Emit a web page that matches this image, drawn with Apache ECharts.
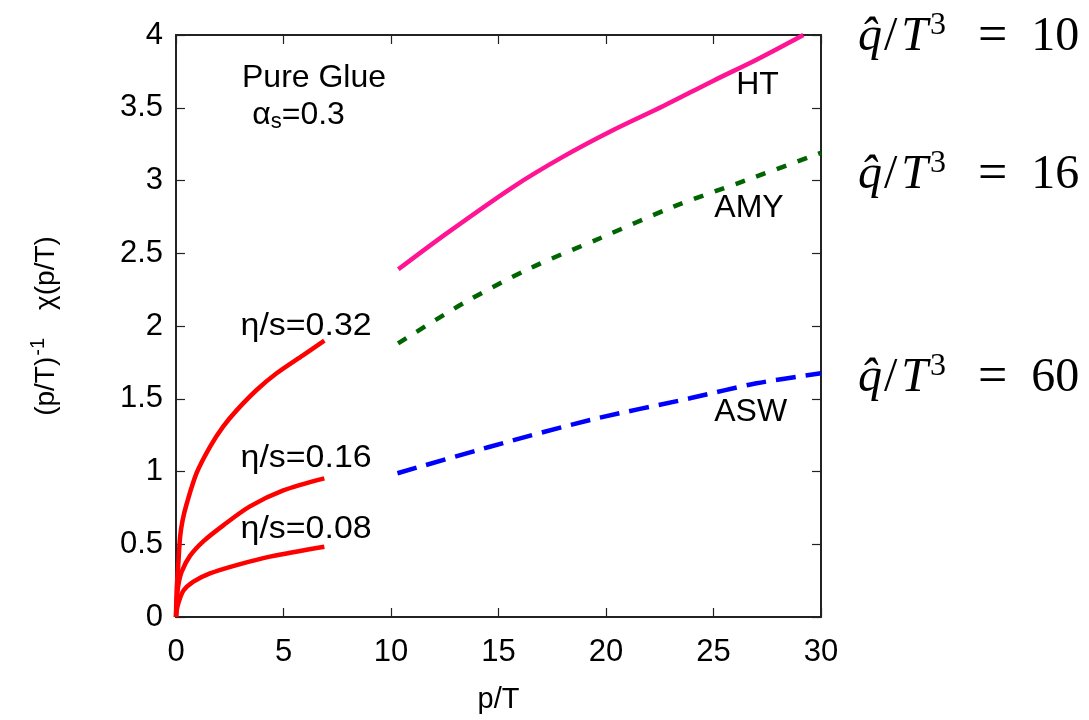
<!DOCTYPE html>
<html>
<head>
<meta charset="utf-8">
<script src="https://cdn.jsdelivr.net/npm/echarts@6/dist/echarts.min.js"></script>
<style>html,body{margin:0;padding:0;background:#fff}#c{width:1089px;height:720px}</style>
</head>
<body>
<div id="c"></div>
<script>
// ---- data ----
const xTicks = [0, 5, 10, 15, 20, 25, 30];
const yTicks = [0, 0.5, 1, 1.5, 2, 2.5, 3, 3.5, 4];
const eta032 = [[0,0],[0.03,0.18],[0.11,0.37],[0.19,0.55],[0.3,0.66],[0.5,0.78],[0.96,0.99],[1.58,1.17],[2.2,1.31],[2.82,1.42],[3.75,1.56],[4.68,1.675],[5.92,1.8],[6.9,1.9]];
const eta016 = [[0,0],[0.04,0.12],[0.11,0.22],[0.26,0.31],[0.65,0.42],[1.27,0.52],[2.2,0.63],[3.44,0.76],[4.99,0.87],[6.9,0.953]];
const eta008 = [[0,0],[0.04,0.05],[0.11,0.094],[0.34,0.18],[0.81,0.243],[1.58,0.3],[2.82,0.357],[4.37,0.415],[6.9,0.483]];
const htData  = [[10.34,2.39],[12.59,2.637],[15.69,2.957],[18.01,3.164],[20.34,3.347],[22.67,3.512],[25,3.686],[27,3.83],[29.18,4.0]];
const amyData = [[10.33,1.88],[13.36,2.156],[16.47,2.397],[19.72,2.603],[23.14,2.82],[26.54,3.003],[30,3.19]];
const aswData = [[10.3,0.988],[14.6,1.17],[19.26,1.354],[23.9,1.503],[27,1.606],[30,1.675]];
const qhatValues = ['10', '16', '60'];

const chart = echarts.init(document.getElementById('c'), null, {renderer: 'canvas'});
const F = 'Liberation Sans, Arial, sans-serif';
const axisLineStyle = {show: true, onZero: false, lineStyle: {color: '#222', width: 2}};
const tickStyle = {show: true, inside: true, length: 9, lineStyle: {color: '#222', width: 1.2}};

function line(data, color, type) {
  return {type: 'line', data: data, showSymbol: false, symbol: 'none', smooth: 0.3, clip: false,
    lineStyle: {color: color, width: 4.5, type: type, cap: 'butt'}, z: 3, animation: false};
}

chart.setOption({
  animation: false,
  grid: {left: 176, right: 268, top: 35, bottom: 103, containLabel: false},
  xAxis: [
    {type: 'value', min: 0, max: 30, interval: 5, position: 'bottom',
     axisLine: axisLineStyle, axisTick: tickStyle, splitLine: {show: false},
     axisLabel: {color: '#000', fontSize: 31, fontFamily: F, margin: 20},
     name: 'p/T', nameLocation: 'middle', nameGap: 68,
     nameTextStyle: {color: '#000', fontSize: 29, fontFamily: F}},
    {type: 'value', min: 0, max: 30, interval: 5, position: 'top',
     axisLine: axisLineStyle, axisTick: tickStyle, axisLabel: {show: false}, splitLine: {show: false}}
  ],
  yAxis: [
    {type: 'value', min: 0, max: 4, interval: 0.5, position: 'left',
     axisLine: axisLineStyle, axisTick: tickStyle, splitLine: {show: false},
     axisLabel: {color: '#000', fontSize: 31, fontFamily: F, margin: 13},
     name: '{a|(p/T)}{sup|-1}{b|χ(p/T)}', nameLocation: 'middle', nameGap: 112,
     nameTextStyle: {color: '#000', fontSize: 28, fontFamily: F,
       rich: {a: {fontSize: 28, fontFamily: F, color: '#000'},
              b: {fontSize: 28, fontFamily: F, color: '#000', padding: [0, 0, 0, 28]},
              sup: {fontSize: 20, fontFamily: F, color: '#000', padding: [0, 0, 16, 1]}}}},
    {type: 'value', min: 0, max: 4, interval: 0.5, position: 'right',
     axisLine: axisLineStyle, axisTick: tickStyle, axisLabel: {show: false}, splitLine: {show: false}}
  ],
  series: [
    line(eta032, '#ff0000', 'solid'),
    line(eta016, '#ff0000', 'solid'),
    line(eta008, '#ff0000', 'solid'),
    line(htData, '#ff1493', 'solid'),
    line(amyData, '#006400', [10, 12]),
    line(aswData, '#0000ff', [20, 10])
  ]
});

// ---- annotations (text) placed in data coordinates ----
const inPlot = [
  {x: 6.42, y: 3.70, t: 'Pure Glue', sx: 1},
  {x: 6.05, y: 2.0, t: 'η/s=0.32', sx: 1.06},
  {x: 6.05, y: 1.093, t: 'η/s=0.16', sx: 1.06},
  {x: 6.05, y: 0.605, t: 'η/s=0.08', sx: 1.06},
  {x: 27.05, y: 3.656, t: 'HT', sx: 1},
  {x: 26.65, y: 2.808, t: 'AMY', sx: 1},
  {x: 26.73, y: 1.405, t: 'ASW', sx: 1}
];
const g = [];
inPlot.forEach(a => {
  const p = chart.convertToPixel({gridIndex: 0}, [a.x, a.y]);
  g.push({type: 'text', x: p[0], y: p[1], scaleX: a.sx, originX: 0, z: 10,
    style: {text: a.t, font: '32px ' + F, fill: '#000', textAlign: 'center', textVerticalAlign: 'middle'}});
});
const ap = chart.convertToPixel({gridIndex: 0}, [5.7, 3.45]);
g.push({type: 'text', x: ap[0], y: ap[1], z: 10,
  style: {text: '{a|α}{s|s}{a|=0.3}', textAlign: 'center', textVerticalAlign: 'middle',
    rich: {a: {fontSize: 32, fontFamily: F, fill: '#000'},
           s: {fontSize: 22, fontFamily: F, fill: '#000', padding: [14, 0, 0, 0]}}}});

const S = 'Liberation Serif, DejaVu Serif, serif';
const qY = [37, 175, 378];
qhatValues.forEach((v, i) => {
  g.push({type: 'text', x: 858, y: qY[i], z: 10,
    style: {text: '{i|q̂}{n|/}{t|T}{sup|3}{e|=}{v|' + v + '}', textAlign: 'left', textVerticalAlign: 'middle',
      rich: {i: {fontSize: 48, fontFamily: S, fontStyle: 'italic', fill: '#000', padding: [0, 2, 0, 0]},
             n: {fontSize: 48, fontFamily: S, fill: '#000'},
             t: {fontSize: 48, fontFamily: S, fontStyle: 'italic', fill: '#000', padding: [0, 0, 0, 4]},
             sup: {fontSize: 32, fontFamily: S, fill: '#000', padding: [0, 0, 22, 2]},
             e: {fontSize: 52, fontFamily: S, fill: '#000', padding: [0, 24, 0, 32]},
             v: {fontSize: 48, fontFamily: S, fill: '#000'}}}});
});
chart.setOption({graphic: g});
</script>
</body>
</html>
